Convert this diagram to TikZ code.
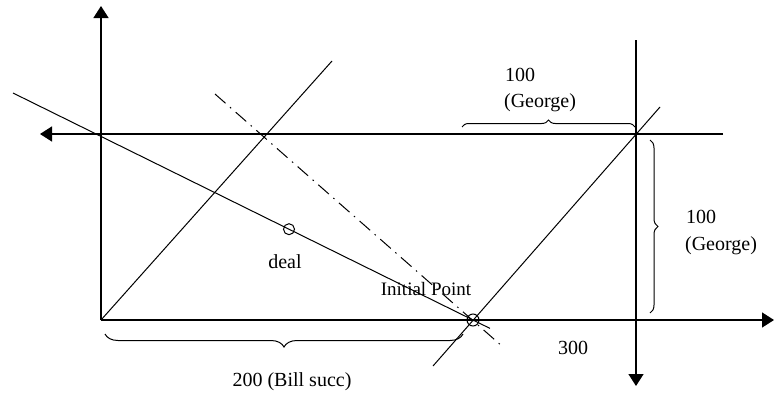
\documentclass[tikz,border=0pt]{standalone}
\usepackage{fontspec}
\setmainfont{Liberation Serif}
\usetikzlibrary{arrows.meta,decorations.pathreplacing}
\begin{document}
\begin{tikzpicture}[x=1pt,y=-1pt,
  axis/.style={line width=1.4pt,-{Triangle[length=12pt,width=15pt]}},
  thinline/.style={line width=1pt},
  dashdot/.style={line width=1pt, dash pattern=on 14pt off 6pt on 1.5pt off 6pt},
  lbl/.style={font=\fontsize{20}{22}\selectfont, inner sep=0pt},
  bracestyle/.style={line width=1pt, decorate, decoration={brace, amplitude=#1}},
  ptmark/.style={circle, draw, line width=1pt, inner sep=0pt, minimum size=#1}
]
\path[use as bounding box] (0,0) rectangle (774,394);

% axes and frame lines
\coordinate (O) at (101,320);
\coordinate (ytip) at (101,6);
\coordinate (xtip) at (774,320);
\coordinate (topR) at (723,134);
\coordinate (topL) at (40,134);
\coordinate (vtop) at (636,40);
\coordinate (vbot) at (636,386);
\draw[axis] (O) -- (ytip);
\draw[axis] (O) -- (xtip);
\draw[axis] (topR) -- (topL);
\draw[axis] (vtop) -- (vbot);

% diagonals
\coordinate (d1b) at (332,61);
\coordinate (d2a) at (433,366);
\coordinate (d2b) at (660,107);
\draw[thinline] (O) -- (d1b);
\draw[thinline] (d2a) -- (d2b);

% budget line
\coordinate (b1) at (13,93);
\coordinate (b2) at (490,328.4);
\draw[thinline] (b1) -- (b2);

% dash-dot line
\coordinate (c1) at (215,94);
\coordinate (c2) at (503,347);
\draw[dashdot] (c1) -- (c2);

% points
\node[ptmark=11pt] (deal) at (289,229.2) {};
\node[ptmark=12pt] (ip) at (473,320) {};
\node[lbl] (deallbl) at (285,262) {deal};
\node[lbl, font=\fontsize{19}{21}\selectfont] (iplbl) at (426,289) {Initial Point};

% braces
\coordinate (bt1) at (462,127);
\coordinate (bt2) at (635,127);
\draw[bracestyle=7pt] (bt1) -- (bt2);
\coordinate (br1) at (650,140);
\coordinate (br2) at (650,313);
\draw[bracestyle=8pt] (br1) -- (br2);
\coordinate (bb1) at (463,334);
\coordinate (bb2) at (105,334);
\draw[bracestyle=13pt] (bb1) -- (bb2);

% labels
\node[lbl] (t100) at (520,75) {100};
\node[lbl] (tgeo) at (540,103) {(George)};
\node[lbl] (r100) at (701,217) {100};
\node[lbl] (rgeo) at (721,246) {(George)};
\node[lbl] (bill) at (292,382) {200 (Bill succ)};
\node[lbl] (l300) at (573,348) {300};
\end{tikzpicture}
\end{document}
